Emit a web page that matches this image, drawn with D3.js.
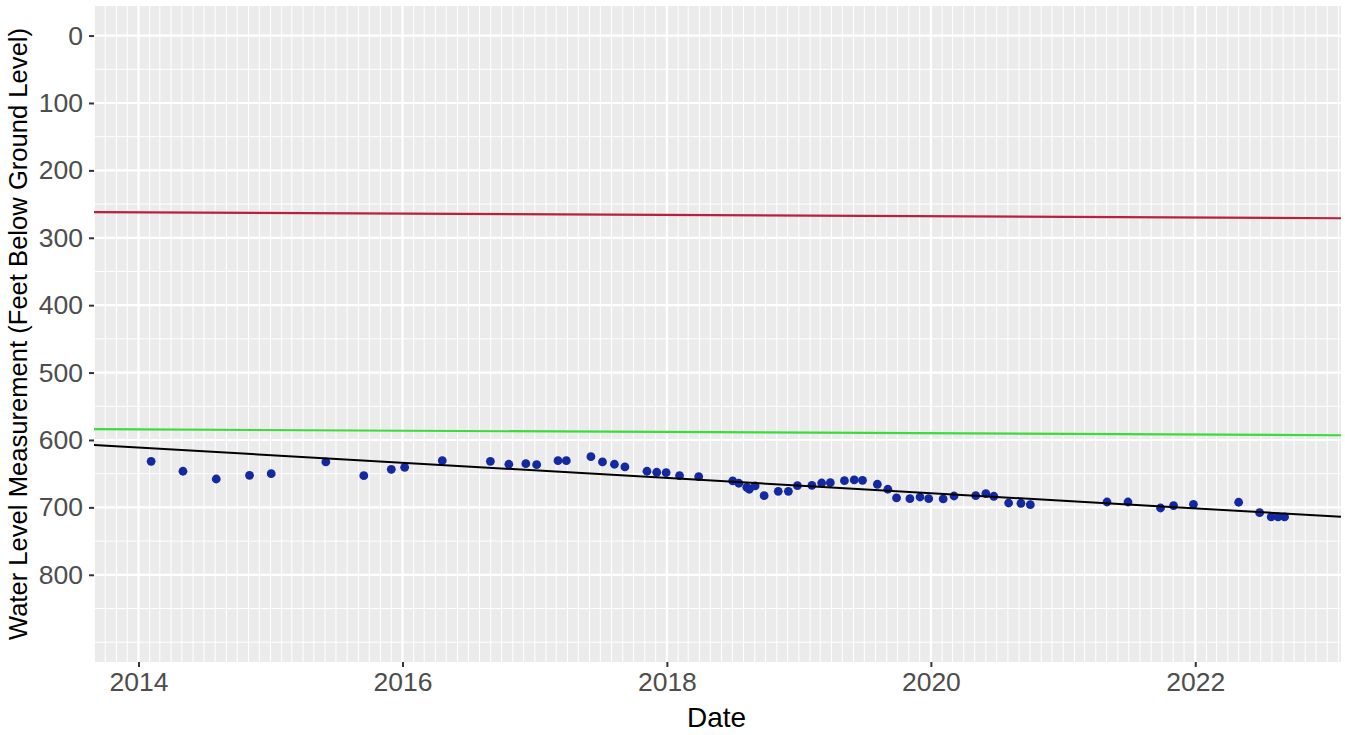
<!DOCTYPE html>
<html>
<head>
<meta charset="utf-8">
<script src="https://cdn.jsdelivr.net/npm/d3@7"></script>
<style>
  html, body { margin: 0; padding: 0; background: #ffffff; }
  svg { display: block; font-family: "Liberation Sans", Arial, sans-serif; }
</style>
</head>
<body>
<svg id="chart" width="1345" height="735"></svg>
<script>
// Measurement dates and depth to water (feet below ground level)
const measureDates = [
  "2014-02-05","2014-05-04","2014-08-04","2014-11-04","2015-01-03","2015-06-03",
  "2015-09-16","2015-12-01","2016-01-07","2016-04-20","2016-08-31","2016-10-21",
  "2016-12-07","2017-01-06","2017-03-06","2017-03-29","2017-06-05","2017-07-07",
  "2017-08-09","2017-09-07","2017-11-07","2017-12-04","2017-12-30","2018-02-05",
  "2018-03-30","2018-07-02","2018-07-19","2018-08-10","2018-08-17","2018-09-02",
  "2018-09-27","2018-11-05","2018-12-03","2018-12-28","2019-02-06","2019-03-05",
  "2019-03-29","2019-05-07","2019-06-03","2019-06-26","2019-08-06","2019-09-04",
  "2019-09-28","2019-11-04","2019-12-02","2019-12-26","2020-02-04","2020-03-05",
  "2020-05-04","2020-06-01","2020-06-23","2020-08-03","2020-09-06","2020-10-02",
  "2021-05-02","2021-06-29","2021-09-27","2021-11-02","2021-12-27","2022-05-01",
  "2022-06-28","2022-07-30","2022-08-18","2022-09-05"
];
const waterLevel = [
  631.6, 646.4, 657.9, 652.4, 650.0, 632.6,
  653.0, 643.5, 640.5, 630.7, 631.6, 636.0,
  635.2, 636.6, 630.7, 630.7, 624.8, 632.6,
  636.0, 640.0, 646.4, 647.9, 648.5, 653.0,
  654.5, 660.8, 664.2, 670.2, 673.1, 668.2,
  682.6, 676.1, 676.1, 667.8, 667.2, 663.8,
  663.4, 660.4, 659.3, 659.8, 665.7, 673.1,
  686.0, 687.1, 684.6, 687.1, 687.5, 683.1,
  682.6, 679.7, 683.5, 693.5, 693.9, 696.0,
  692.0, 692.0, 700.9, 697.5, 695.4, 692.4,
  707.9, 714.2, 714.2, 714.2
];

// Reference lines across the full date span
const lineDates = ["2013-08-31", "2023-02-08"];
const redLevel = [262.0, 271.0];
const greenLevel = [584.0, 593.0];
const trendLevel = [607.5, 714.0];

// Axis ticks
const xTickYears = [2014, 2016, 2018, 2020, 2022];
const yTicks = [0, 100, 200, 300, 400, 500, 600, 700, 800];
const yDomain = [-43.9, 929.4];

const parse = d3.timeParse("%Y-%m-%d");
const svg = d3.select("#chart");

const panel = { left: 94, right: 1341, top: 6, bottom: 662 };

const x = d3.scaleTime()
  .domain(lineDates.map(parse))
  .range([panel.left, panel.right]);
const y = d3.scaleLinear()
  .domain(yDomain)
  .range([panel.top, panel.bottom]);

// Panel background
svg.append("rect")
  .attr("x", panel.left).attr("y", panel.top)
  .attr("width", panel.right - panel.left)
  .attr("height", panel.bottom - panel.top)
  .attr("fill", "#EBEBEB");

const grid = svg.append("g");

// Minor grid: monthly verticals, every 50 ft horizontally
const months = d3.timeMonth.range(x.domain()[0], x.domain()[1]);
grid.selectAll("line.vminor").data(months).join("line")
  .attr("x1", d => x(d)).attr("x2", d => x(d))
  .attr("y1", panel.top).attr("y2", panel.bottom)
  .attr("stroke", "#ffffff").attr("stroke-width", 1);

const yMinor = d3.range(-50, 951, 50).filter(v => v > yDomain[0] && v < yDomain[1]);
grid.selectAll("line.hminor").data(yMinor).join("line")
  .attr("x1", panel.left).attr("x2", panel.right)
  .attr("y1", d => y(d)).attr("y2", d => y(d))
  .attr("stroke", "#ffffff").attr("stroke-width", 1);

// Major grid
const xTicks = xTickYears.map(yr => new Date(yr, 0, 1));
grid.selectAll("line.vmajor").data(xTicks).join("line")
  .attr("x1", d => x(d)).attr("x2", d => x(d))
  .attr("y1", panel.top).attr("y2", panel.bottom)
  .attr("stroke", "#ffffff").attr("stroke-width", 2.2);
grid.selectAll("line.hmajor").data(yTicks).join("line")
  .attr("x1", panel.left).attr("x2", panel.right)
  .attr("y1", d => y(d)).attr("y2", d => y(d))
  .attr("stroke", "#ffffff").attr("stroke-width", 2.2);

// Clip data to the panel
svg.append("clipPath").attr("id", "panelClip")
  .append("rect")
  .attr("x", panel.left).attr("y", panel.top)
  .attr("width", panel.right - panel.left)
  .attr("height", panel.bottom - panel.top);

const plot = svg.append("g").attr("clip-path", "url(#panelClip)");
const line = d3.line().x(d => x(d[0])).y(d => y(d[1]));
const pairs = vals => lineDates.map((d, i) => [parse(d), vals[i]]);

plot.append("path").datum(pairs(redLevel)).attr("d", line)
  .attr("fill", "none").attr("stroke", "#B8203F").attr("stroke-width", 2.2);
plot.append("path").datum(pairs(greenLevel)).attr("d", line)
  .attr("fill", "none").attr("stroke", "#3BDB3B").attr("stroke-width", 2.2);

plot.selectAll("circle").data(measureDates.map((d, i) => [parse(d), waterLevel[i]]))
  .join("circle")
  .attr("cx", d => x(d[0])).attr("cy", d => y(d[1]))
  .attr("r", 4.4).attr("fill", "#1428A0");

plot.append("path").datum(pairs(trendLevel)).attr("d", line)
  .attr("fill", "none").attr("stroke", "#000000").attr("stroke-width", 2);

// Axes
const xAxis = svg.append("g")
  .attr("transform", `translate(0,${panel.bottom})`)
  .call(d3.axisBottom(x).tickValues(xTicks).tickFormat(d3.timeFormat("%Y"))
    .tickSize(5).tickPadding(5));
const yAxis = svg.append("g")
  .attr("transform", `translate(${panel.left},0)`)
  .call(d3.axisLeft(y).tickValues(yTicks).tickSize(5).tickPadding(6));

[xAxis, yAxis].forEach(g => {
  g.select(".domain").remove();
  g.selectAll(".tick line").attr("stroke", "#333333").attr("stroke-width", 2);
  g.selectAll(".tick text")
    .attr("fill", "#4D4D4D")
    .style("font-size", "26.5px")
    .style("font-family", "'Liberation Sans', Arial, sans-serif");
});

// Axis titles
svg.append("text")
  .attr("x", (panel.left + panel.right) / 2 - 1).attr("y", 727)
  .attr("text-anchor", "middle")
  .style("font-size", "28px").attr("fill", "#000000")
  .text("Date");

svg.append("text")
  .attr("transform", `translate(27,${(panel.top + panel.bottom) / 2}) rotate(-90)`)
  .attr("text-anchor", "middle")
  .style("font-size", "25.6px").attr("fill", "#000000")
  .text("Water Level Measurement (Feet Below Ground Level)");
</script>
</body>
</html>
